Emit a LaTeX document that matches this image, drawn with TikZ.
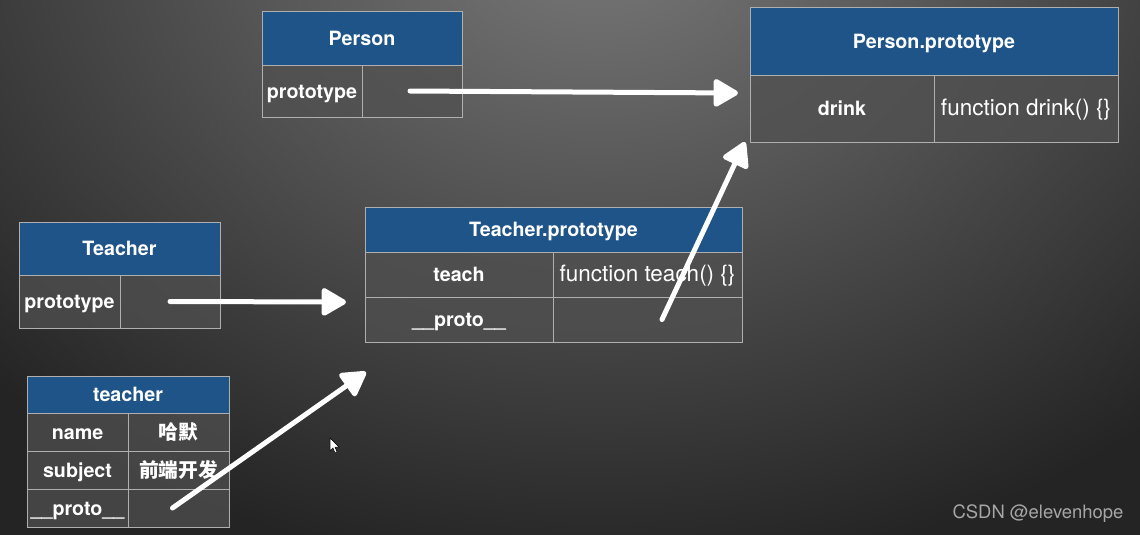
\documentclass[tikz,border=0pt]{standalone}
\usepackage{fontspec}
\setmainfont{TeX Gyre Heros}
\newfontfamily\cjk{Noto Sans CJK SC}
\usetikzlibrary{arrows.meta}
\definecolor{hdrblue}{RGB}{31,84,137}
\definecolor{cellgray}{RGB}{80,80,80}
\definecolor{rulegray}{RGB}{175,175,175}
\definecolor{bgtop}{RGB}{122,122,122}
\definecolor{bgbot}{RGB}{36,36,36}
\tikzset{
 box/.style={draw=rulegray,line width=.2mm,inner sep=0pt,outer sep=0pt,anchor=north west,text=white,text height=1.6ex,text depth=0pt,font=\fontsize{11.2}{13}\selectfont\bfseries},
 hdr/.style={box,fill=hdrblue},
 cell/.style={box,fill=cellgray,fill opacity=.75,text opacity=1},
 fn/.style={cell,font=\fontsize{12.8}{15}\selectfont},
 chalk/.style={draw=white,line width=1mm,line cap=round,-{Triangle[length=5.4mm,width=6mm,round]}}
}
\begin{document}
\begin{tikzpicture}[x=.2mm,y=-.2mm]
\useasboundingbox (0,0) rectangle (1140,534);
\fill[bgbot] (-20,-20) rectangle (1160,560);
\shade[inner color=bgtop,outer color=bgbot] (600,-80) ellipse (850 and 660);
% Person
\node[hdr,minimum width=40mm,minimum height=10.8mm] (person) at (262,11) {Person};
\node[cell,minimum width=20mm,minimum height=10.4mm] (pkey) at (262,65) {prototype};
\node[cell,minimum width=20mm,minimum height=10.4mm] (pval) at (362,65) {};
% Person.prototype
\node[hdr,minimum width=73.6mm,minimum height=13.6mm] (pproto) at (750,7) {Person.prototype};
\node[cell,minimum width=36.8mm,minimum height=13.4mm] (drinkkey) at (750,75) {drink};
\node[fn,minimum width=36.8mm,minimum height=13.4mm] (drinkval) at (934,75) {function drink() \{\}};
% Teacher
\node[hdr,minimum width=40.2mm,minimum height=10.6mm] (teacher) at (19,222) {Teacher};
\node[cell,minimum width=20.2mm,minimum height=10.6mm] (tkey) at (19,275) {prototype};
\node[cell,minimum width=20mm,minimum height=10.6mm] (tval) at (120,275) {};
% Teacher.prototype
\node[hdr,minimum width=75.4mm,minimum height=9mm] (tproto) at (365,207) {Teacher.prototype};
\node[cell,minimum width=37.6mm,minimum height=9mm] (teachkey) at (365,252) {teach};
\node[fn,minimum width=37.8mm,minimum height=9mm] (teachval) at (553,252) {function teach() \{\}};
\node[cell,minimum width=37.6mm,minimum height=9mm] (tpkey) at (365,297) {\_\_proto\_\_};
\node[cell,minimum width=37.8mm,minimum height=9mm] (tpval) at (553,297) {};
% teacher instance
\node[hdr,minimum width=40.4mm,minimum height=7.4mm] (inst) at (27,376) {teacher};
\node[cell,minimum width=20.2mm,minimum height=7.6mm] (namekey) at (27,413) {name};
\node[cell,minimum width=20.2mm,minimum height=7.6mm] (nameval) at (128,413) {\cjk\bfseries 哈默};
\node[cell,minimum width=20.2mm,minimum height=7.6mm] (subjkey) at (27,451) {subject};
\node[cell,minimum width=20.2mm,minimum height=7.6mm] (subjval) at (128,451) {\cjk\bfseries 前端开发};
\node[cell,minimum width=20.2mm,minimum height=7.6mm] (ikey) at (27,489) {\_\_proto\_\_};
\node[cell,minimum width=20.2mm,minimum height=7.6mm] (ival) at (128,489) {};
% chalk arrows
\coordinate (tip1) at (738,93);
\coordinate (tip2) at (346,302);
\coordinate (tip3) at (366,372);
\coordinate (tip4) at (745,142);
\draw[chalk] ([xshift=-.4mm]pval.center) -- (tip1);
\draw[chalk] (tval.center) -- (tip2);
\draw[chalk] ([xshift=-1.2mm]ival.center) -- (tip3);
\draw[chalk] ([xshift=2.9mm]tpval.center) -- (tip4);
% cursor
\fill[white,draw=black,line width=.1mm] (330,438) -- (330,451) -- (333,448) -- (335,453) -- (337,452) -- (335,447) -- (339,447) -- cycle;
\node[text=black!35,font=\fontsize{10.5}{12}\selectfont] (mark) at (1038,514) {CSDN @elevenhope};
\end{tikzpicture}
\end{document}
